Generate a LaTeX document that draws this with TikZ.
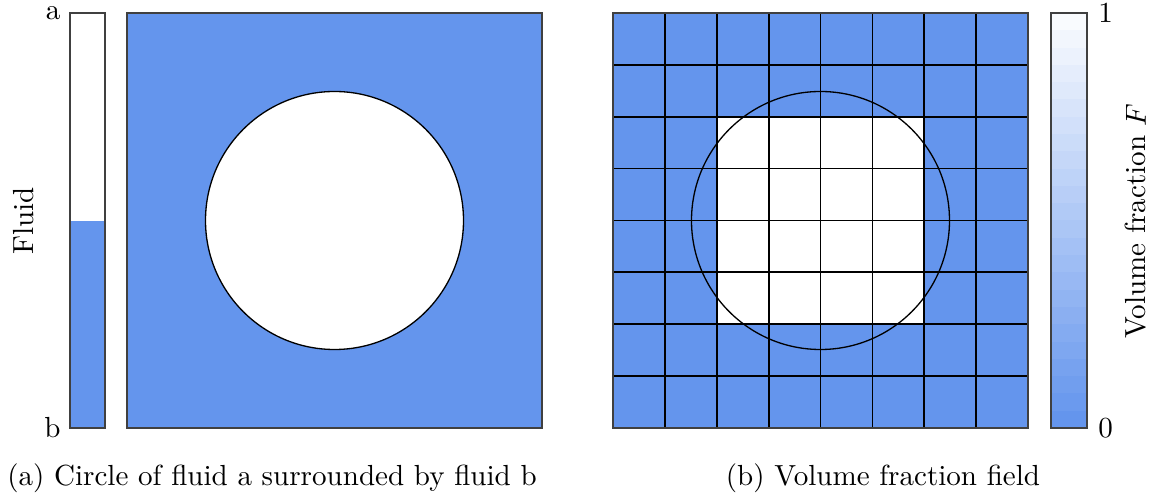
\documentclass[tikz,border=0pt]{standalone}
\definecolor{fluidb}{RGB}{100,149,237}
\begin{document}
\begin{tikzpicture}[x=0.344pt,y=-0.344pt,
  outline/.style={draw=black!75, line width=0.6pt},
  gridline/.style={draw=black, line width=0.6pt},
  ring/.style={draw=black, line width=0.45pt},
  lbl/.style={inner sep=1pt}]
\useasboundingbox (0,0) rectangle (1158,503);
% left colour bar
\fill[fluidb] (70,221) rectangle (105,428);
\draw[outline] (70,13) rectangle (105,428);
\node[lbl,anchor=east] (la) at (64,13) {a};
\node[lbl,anchor=east] (lb) at (64,428) {b};
\node[lbl,rotate=90] (lfluid) at (24,221) {Fluid};
% left square
\fill[fluidb] (127,13) rectangle (542,428);
\draw[outline] (127,13) rectangle (542,428);
\coordinate (cA) at (334.5,220.5);
\fill[white] (cA) circle[radius=129];
\draw[ring] (cA) circle[radius=129];
% right grid
\fill[fluidb] (613,13) rectangle (1028,428);
\fill[white] (716.75,116.75) rectangle (924.25,324.25);
\foreach \k in {1,...,7}{
  \draw[gridline] ({613+\k*51.875},13) -- ({613+\k*51.875},428);
  \draw[gridline] (613,{13+\k*51.875}) -- (1028,{13+\k*51.875});
}
\draw[outline] (613,13) rectangle (1028,428);
\coordinate (cB) at (820.5,220.5);
\draw[ring] (cB) circle[radius=129];
% right colour bar
\foreach \i in {0,...,23}{
  \pgfmathsetmacro\p{100*(\i+1)/24}
  \fill[fluidb!\p!white] (1051,{13+\i*415/24}) rectangle (1087,{13+(\i+1)*415/24+0.5});
}
\draw[outline] (1051,13) rectangle (1087,428);
\node[lbl,anchor=west] (t1) at (1095,13) {1};
\node[lbl,anchor=west] (t0) at (1095,428) {0};
\node[lbl,rotate=90] (vf) at (1136,221) {Volume fraction $F$};
% captions
\node[lbl] (capa) at (272,478) {(a) Circle of fluid a surrounded by fluid b};
\node[lbl] (capb) at (883,478) {(b) Volume fraction field};
\end{tikzpicture}
\end{document}
